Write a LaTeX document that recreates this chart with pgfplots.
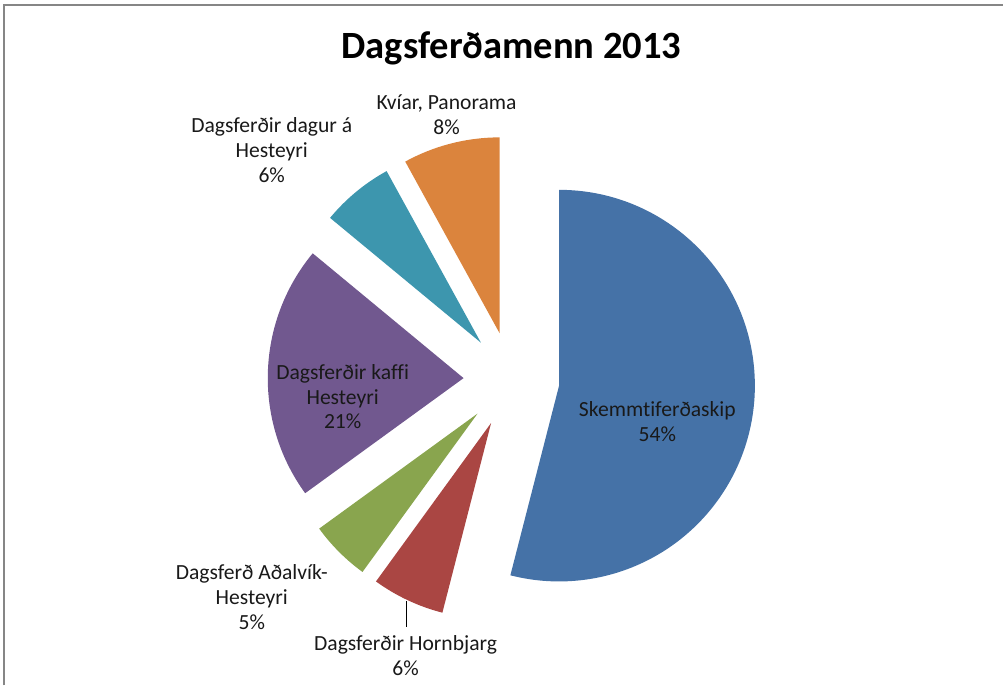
\documentclass[border=0pt]{standalone}
\usepackage{pgfplots}
\pgfplotsset{compat=1.18}
\usepackage{fontspec}
\setmainfont{Carlito}[Ligatures=NoCommon]
\definecolor{cBlue}{RGB}{69,114,167}
\definecolor{cRed}{RGB}{170,70,67}
\definecolor{cGreen}{RGB}{137,165,78}
\definecolor{cPurple}{RGB}{113,88,143}
\definecolor{cTeal}{RGB}{61,150,174}
\definecolor{cOrange}{RGB}{219,132,61}
\definecolor{cBorder}{RGB}{134,134,134}
% data: shares in percent, in the pie's clockwise order from 12 o'clock
\def\vSkip{54}
\def\vHorn{6}
\def\vAdal{5}
\def\vKaffi{21}
\def\vDagur{6}
\def\vKviar{8}
% pie geometry (axis units = pixels)
\def\pcx{512}\def\pcy{380}
\def\prad{98pt}\def\pexp{24pt}
\newcommand\pieslice[3]{%
  \pgfmathsetmacro\tA{90-3.6*(#1)}%
  \pgfmathsetmacro\tB{90-3.6*(#2)}%
  \pgfmathsetmacro\tM{(\tA+\tB)/2}%
  \edef\tmp{\noexpand\fill[#3] (axis cs:\pcx,\pcy) ++(\tM:\pexp) -- ++(\tA:\prad) arc[start angle=\tA, end angle=\tB, radius=\prad] -- cycle;}%
  \tmp}
\begin{document}
\begin{tikzpicture}
\pgfmathsetmacro\cA{0}
\pgfmathsetmacro\cB{\cA+\vSkip}
\pgfmathsetmacro\cC{\cB+\vHorn}
\pgfmathsetmacro\cD{\cC+\vAdal}
\pgfmathsetmacro\cE{\cD+\vKaffi}
\pgfmathsetmacro\cF{\cE+\vDagur}
\pgfmathsetmacro\cG{\cF+\vKviar}
\begin{axis}[
  scale only axis, width=502pt, height=343pt,
  xmin=0, xmax=1004, ymin=0, ymax=686, y dir=reverse,
  hide axis, clip=false,
]
\path (axis cs:0,0) rectangle (axis cs:1004,686);
\draw[cBorder, line width=1pt] (axis cs:4.5,686) -- (axis cs:4.5,5) -- (axis cs:1004,5);
\pieslice{\cA}{\cB}{cBlue}
\pieslice{\cB}{\cC}{cRed}
\pieslice{\cC}{\cD}{cGreen}
\pieslice{\cD}{\cE}{cPurple}
\pieslice{\cE}{\cF}{cTeal}
\pieslice{\cF}{\cG}{cOrange}
\node[font=\bfseries\fontsize{19.3}{23}\selectfont] at (axis cs:512,48) {Dagsferðamenn 2013};
\tikzset{lbl/.style={align=center, font=\fontsize{10.8}{12.5}\selectfont, text=black!90, inner sep=0pt}}
\node[lbl] at (axis cs:447,115) {Kvíar, Panorama\\8\%};
\node[lbl] at (axis cs:272,150) {Dagsferðir dagur á\\Hesteyri\\6\%};
\node[lbl] at (axis cs:343,397) {Dagsferðir kaffi\\Hesteyri\\21\%};
\node[lbl] at (axis cs:658,422) {Skemmtiferðaskip\\54\%};
\node[lbl] at (axis cs:252,598) {Dagsferð Aðalvík-\\Hesteyri\\5\%};
\node[lbl] at (axis cs:406,656) {Dagsferðir Hornbjarg\\6\%};
\draw[black, line width=0.5pt] (axis cs:407,602) -- (axis cs:407,628);
\end{axis}
\end{tikzpicture}
\end{document}
